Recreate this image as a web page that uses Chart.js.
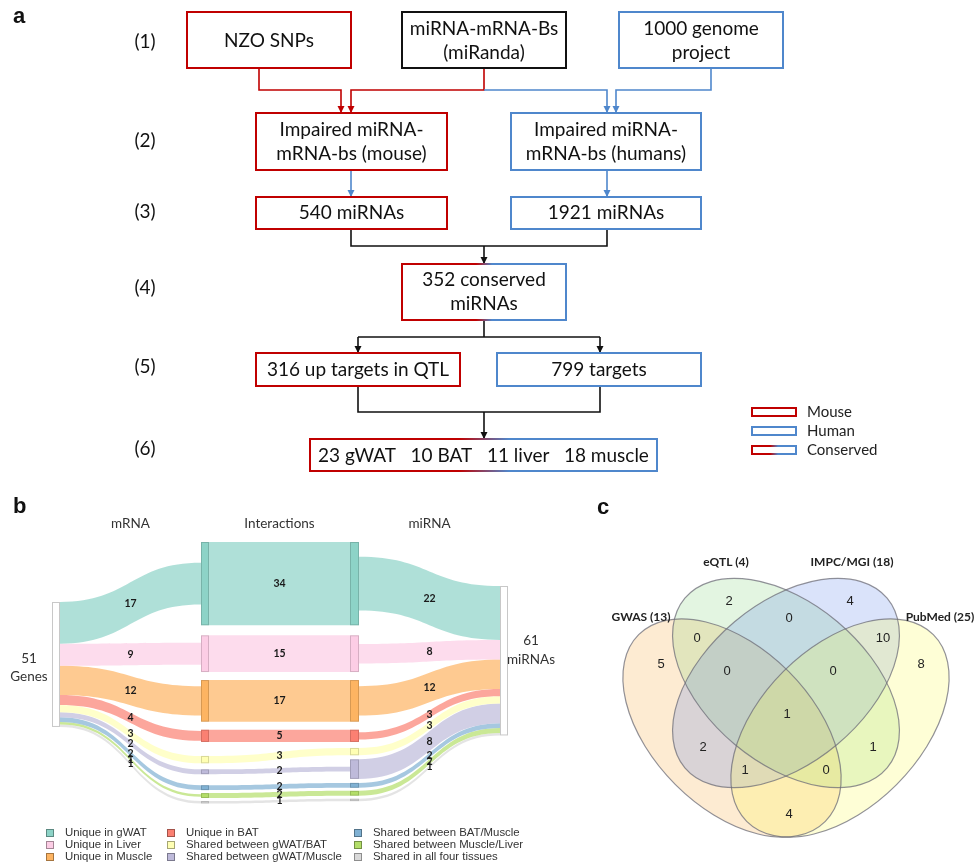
<!DOCTYPE html>
<html><head><meta charset="utf-8">
<script src="https://cdn.jsdelivr.net/npm/chart.js@4.4.0/dist/chart.umd.min.js"></script>
<style>html,body{margin:0;padding:0;background:#fff}#wrap{width:975px;height:862px}</style>
</head><body><div id="wrap"><canvas id="c" width="975" height="862"></canvas></div>
<script>
// ---------------- data ----------------
const flowSteps = ['(1)','(2)','(3)','(4)','(5)','(6)'];
const sourceLabels = ['NZO SNPs', 'miRNA-mRNA-Bs\n(miRanda)', '1000 genome\nproject'];
const impairedLabels = ['Impaired miRNA-\nmRNA-bs (mouse)', 'Impaired miRNA-\nmRNA-bs (humans)'];
const speciesMiRNACounts = [540, 1921];
const conservedMiRNACount = 352;
const targetCounts = [316, 799];
const targetLabels = ['up targets in QTL', 'targets'];
const tissueNames = ['gWAT', 'BAT', 'liver', 'muscle'];
const tissueCounts = [23, 10, 11, 18];
const speciesLegend = ['Mouse', 'Human', 'Conserved'];

const sankeyCategories = ['Unique in gWAT','Unique in Liver','Unique in Muscle','Unique in BAT',
  'Shared between gWAT/BAT','Shared between gWAT/Muscle','Shared between BAT/Muscle',
  'Shared between Muscle/Liver','Shared in all four tissues'];
const mrnaCounts = [17, 9, 12, 4, 3, 2, 2, 1, 1];
const interactionCounts = [34, 15, 17, 5, 3, 2, 2, 2, 1];
const mirnaCounts = [22, 8, 12, 3, 3, 8, 2, 2, 1];
const sankeyColumns = ['mRNA', 'Interactions', 'miRNA'];
const geneTotal = 51;
const mirnaTotal = 61;

const vennSets = ['GWAS', 'eQTL', 'IMPC/MGI', 'PubMed'];
const vennSetSizes = [13, 4, 18, 25];
const vennRegions = ['1000','0100','0010','0001','1100','0110','0011','1110','0111','1111','1010','0101','1011','1101','1001'];
const vennCounts  = [5, 2, 4, 8, 0, 0, 10, 0, 0, 1, 2, 1, 1, 0, 4];

// ---------------- styles ----------------
const RED = '#C00000', BLUE = '#4F87CC', BLACK = '#111';
const SET3 = ['#8DD3C7','#FCCDE5','#FDB462','#FB8072','#FFFFB3','#BEBADA','#80B1D3','#B3DE69','#D9D9D9'];
const VENN_FILL = ['rgba(245,155,30,0.2)','rgba(115,205,105,0.2)','rgba(70,115,230,0.2)','rgba(250,250,50,0.2)'];
const SANS = 'Lato, "Open Sans", sans-serif';
const ARIAL = '"Liberation Sans", Arial, sans-serif';

function rgba(hex, a){ const n=parseInt(hex.slice(1),16); return `rgba(${n>>16},${(n>>8)&255},${n&255},${a})`; }

const drawPlugin = {
  id: 'figure',
  afterDraw(chart){
    const ctx = chart.ctx, sx = chart.scales.x, sy = chart.scales.y;
    const X = v => sx.getPixelForValue(v), Y = v => sy.getPixelForValue(v);
    const L = v => Y(v) - Y(0);
    ctx.save();
    ctx.textBaseline = 'middle';

    function text(str, x, y, font, color, align, lh){
      ctx.font = font; ctx.fillStyle = color || BLACK; ctx.textAlign = align || 'center';
      const lines = String(str).split('\n'); lh = lh || 24;
      const y0 = y - (lines.length-1)*lh/2;
      lines.forEach((s,i)=>ctx.fillText(s, X(x), Y(y0 + i*lh)));
    }
    function rect(x1,y1,x2,y2,stroke,lw){
      ctx.strokeStyle = stroke; ctx.lineWidth = lw || 2;
      ctx.strokeRect(X(x1), Y(y1), X(x2)-X(x1), Y(y2)-Y(y1));
    }
    function grad(cx, spread){
      const g = ctx.createLinearGradient(X(cx-spread),0,X(cx+spread),0);
      g.addColorStop(0, RED); g.addColorStop(1, BLUE); return g;
    }
    function poly(pts, color, arrow){
      ctx.strokeStyle = color; ctx.lineWidth = 1.6; ctx.beginPath();
      pts.forEach((p,i)=> i ? ctx.lineTo(X(p[0]),Y(p[1])) : ctx.moveTo(X(p[0]),Y(p[1])));
      ctx.stroke();
      if (arrow){
        const p = pts[pts.length-1];
        ctx.fillStyle = color; ctx.beginPath();
        ctx.moveTo(X(p[0]), Y(p[1])); ctx.lineTo(X(p[0]-3.5), Y(p[1]-7)); ctx.lineTo(X(p[0]+3.5), Y(p[1]-7));
        ctx.closePath(); ctx.fill();
      }
    }

    // ============ panel a: flowchart ============
    const BF = '19px ' + SANS;
    text('a', 13, 17, 'bold 22px ' + ARIAL, BLACK, 'left');
    const stepY = [42, 141, 212, 288, 367, 449];
    flowSteps.forEach((s,i)=>text(s, 145, stepY[i], BF, BLACK));

    // connectors
    poly([[259,68],[259,90],[341,90],[341,113]], RED, true);
    poly([[484,68],[484,90],[351,90],[351,113]], RED, true);
    poly([[484,90],[607,90],[607,113]], BLUE, true);
    poly([[711,68],[711,90],[616,90],[616,113]], BLUE, true);
    poly([[351,170],[351,197]], BLUE, true);
    poly([[607,170],[607,197]], BLUE, true);
    poly([[351,229],[351,246],[607,246],[607,229]], BLACK, false);
    poly([[484,246],[484,264]], BLACK, true);
    poly([[484,320],[484,337]], BLACK, false);
    poly([[358,337],[600,337]], BLACK, false);
    poly([[358,337],[358,353]], BLACK, true);
    poly([[600,337],[600,353]], BLACK, true);
    poly([[358,386],[358,412],[600,412],[600,386]], BLACK, false);
    poly([[484,412],[484,439]], BLACK, true);

    // boxes
    const srcBoxes = [[187,351,RED],[402,566,BLACK],[619,783,BLUE]];
    srcBoxes.forEach((b,i)=>{ rect(b[0],12,b[1],68,b[2]); text(sourceLabels[i], (b[0]+b[1])/2, 41, BF); });
    const spBoxes = [[256,447,RED],[511,701,BLUE]];
    spBoxes.forEach((b,i)=>{
      rect(b[0],113,b[1],170,b[2]); text(impairedLabels[i], (b[0]+b[1])/2, 142, BF);
      rect(b[0],197,b[1],229,b[2]); text(speciesMiRNACounts[i] + ' miRNAs', (b[0]+b[1])/2, 213, BF);
    });
    rect(402,264,566,320, grad(484,8)); text(conservedMiRNACount + ' conserved\nmiRNAs', 484, 292, BF);
    const tgBoxes = [[256,460,RED],[497,701,BLUE]];
    tgBoxes.forEach((b,i)=>{ rect(b[0],353,b[1],386,b[2]); text(targetCounts[i] + ' ' + targetLabels[i], (b[0]+b[1])/2, 370, BF); });
    rect(310,439,657,471, grad(484,25));
    text(tissueCounts.map((c,i)=>c + ' ' + tissueNames[i]).join('   '), 483.5, 456, BF);

    // species legend
    const lgY = [412, 431, 450];
    [RED, BLUE, grad(774,4)].forEach((c,i)=>{ rect(752, lgY[i]-4, 796, lgY[i]+4, c, 2); text(speciesLegend[i], 807, lgY[i], '15px ' + SANS, '#222', 'left'); });

    // ============ panel b: sankey ============
    text('b', 13, 507, 'bold 22px ' + ARIAL, BLACK, 'left');
    const K = 2.45;
    const LX1 = 60, MX0 = 201, MX1 = 209, MX2 = 350, MX3 = 359, RX0 = 500;
    const leftTop = 602, rightTop = 586, midTop = 542;
    const leftGaps  = [0, 10, 8, 8, 14, 6, 11, 3, 3];
    const rightGaps = [0, 10, 8, 8, 6, 4, 4, 3, 3];
    const n = sankeyCategories.length;
    const Lh = interactionCounts.map((v,i)=>Math.max(v, mrnaCounts[i])*K);
    const Rh = interactionCounts.map((v,i)=>Math.max(v, mirnaCounts[i])*K);
    function stack(h, gaps){
      const top = []; let y = midTop;
      for (let i=0;i<n;i++){ y += gaps[i]; top.push(y); y += h[i]; }
      return top;
    }
    const LT = stack(Lh, leftGaps), RT = stack(Rh, rightGaps);
    const Lc = LT.map((t,i)=>t + Lh[i]/2), Rc = RT.map((t,i)=>t + Rh[i]/2);

    function band(x0, y0, x1, y1, t0, t1, fill){
      const xm = (x0+x1)/2;
      ctx.beginPath();
      ctx.moveTo(X(x0), Y(y0));
      ctx.bezierCurveTo(X(xm), Y(y0), X(xm), Y(y1), X(x1), Y(y1));
      ctx.lineTo(X(x1), Y(y1+t1));
      ctx.bezierCurveTo(X(xm), Y(y1+t1), X(xm), Y(y0+t0), X(x0), Y(y0+t0));
      ctx.closePath(); ctx.fillStyle = fill; ctx.fill();
    }
    let acc = 0; const leftStart = [];
    mrnaCounts.forEach(v=>{ leftStart.push(leftTop + acc*K); acc += v; });
    acc = 0; const rightStart = [];
    mirnaCounts.forEach(v=>{ rightStart.push(rightTop + acc*K); acc += v; });

    for (let i=n-1;i>=0;i--){
      const t = mrnaCounts[i]*K;
      band(LX1, leftStart[i], MX0, Lc[i]-t/2, t, t, rgba(SET3[i],0.7));
    }
    for (let i=n-1;i>=0;i--){
      const t = interactionCounts[i]*K;
      band(MX1, Lc[i]-t/2, MX2, Rc[i]-t/2, t, t, rgba(SET3[i],0.7));
    }
    for (let i=n-1;i>=0;i--){
      const t = mirnaCounts[i]*K;
      band(MX3, Rc[i]-t/2, RX0, rightStart[i], t, t, rgba(SET3[i],0.7));
    }
    for (let i=0;i<n;i++){
      ctx.fillStyle = SET3[i]; ctx.strokeStyle = 'rgba(0,0,0,0.15)'; ctx.lineWidth = 1;
      ctx.fillRect(X(MX0), Y(LT[i]), X(MX1)-X(MX0), L(Lh[i]));
      ctx.strokeRect(X(MX0)+0.5, Y(LT[i])+0.5, X(MX1)-X(MX0)-1, L(Lh[i])-1);
      ctx.fillRect(X(MX2), Y(RT[i]), X(MX3)-X(MX2), L(Rh[i]));
      ctx.strokeRect(X(MX2)+0.5, Y(RT[i])+0.5, X(MX3)-X(MX2)-1, L(Rh[i])-1);
    }
    ctx.fillStyle = '#fff'; ctx.strokeStyle = '#c8c8c8'; ctx.lineWidth = 1;
    ctx.fillRect(X(52), Y(leftTop), X(8)-X(0), L(geneTotal*K));
    ctx.strokeRect(X(52)+0.5, Y(leftTop)+0.5, X(8)-X(0)-1, L(geneTotal*K)-1);
    ctx.fillRect(X(RX0), Y(rightTop), X(8)-X(0), L(mirnaTotal*K));
    ctx.strokeRect(X(RX0)+0.5, Y(rightTop)+0.5, X(8)-X(0)-1, L(mirnaTotal*K)-1);

    const NF = 'bold 10.5px ' + SANS;
    const xl = (LX1+MX0)/2, xm = (MX1+MX2)/2, xr = (MX3+RX0)/2;
    for (let i=0;i<n;i++){
      text(mrnaCounts[i], xl, (leftStart[i] + mrnaCounts[i]*K/2 + Lc[i])/2, NF, '#1a1a1a');
      text(interactionCounts[i], xm, (Lc[i] + Rc[i])/2, NF, '#1a1a1a');
      text(mirnaCounts[i], xr, (rightStart[i] + mirnaCounts[i]*K/2 + Rc[i])/2, NF, '#1a1a1a');
    }
    const HF = '13.5px ' + SANS;
    [xl, xm, xr].forEach((x,i)=>text(sankeyColumns[i], x, 524, HF, '#333'));
    text(geneTotal + '\nGenes', 29, 668, HF, '#333', 'center', 18);
    text(mirnaTotal + '\nmiRNAs', 531, 650, HF, '#333', 'center', 19);

    const colX = [46, 167, 354], rowY = [833, 845, 857];
    sankeyCategories.forEach((c,i)=>{
      const cx = colX[Math.floor(i/3)], cy = rowY[i%3];
      ctx.fillStyle = SET3[i]; ctx.fillRect(X(cx), Y(cy-4), 8, 8);
      ctx.strokeStyle = 'rgba(0,0,0,0.35)'; ctx.lineWidth = 1; ctx.strokeRect(X(cx)+0.5, Y(cy-4)+0.5, 7, 7);
      text(c, cx + 19, cy, '11.4px ' + ARIAL, '#333', 'left');
    });

    // ============ panel c: venn ============
    text('c', 597, 508, 'bold 22px ' + ARIAL, BLACK, 'left');
    const EA = 132, EB = 80;
    const ell = [[732,728,45],[786,683,40],[786,683,-40],[840,728,-45]];
    ell.forEach((e,i)=>{
      ctx.beginPath(); ctx.ellipse(X(e[0]), Y(e[1]), L(EA), L(EB), e[2]*Math.PI/180, 0, Math.PI*2);
      ctx.fillStyle = VENN_FILL[i]; ctx.fill();
    });
    ell.forEach((e,i)=>{
      ctx.beginPath(); ctx.ellipse(X(e[0]), Y(e[1]), L(EA), L(EB), e[2]*Math.PI/180, 0, Math.PI*2);
      ctx.strokeStyle = 'rgba(110,110,120,0.75)'; ctx.lineWidth = 1.2; ctx.stroke();
    });
    const setLabelPos = [[641,617],[726,562],[852,562],[940,617]];
    vennSets.forEach((s,i)=>text(`${s} (${vennSetSizes[i]})`, setLabelPos[i][0], setLabelPos[i][1], 'bold 12px ' + SANS, '#222'));
    const regionPos = {'1000':[661,664],'0100':[729,601],'0010':[850,601],'0001':[921,664],'1100':[697,638],
      '0110':[789,618],'0011':[883,638],'1110':[727,671],'0111':[833,671],'1111':[787,714],'1010':[703,747],
      '0101':[873,747],'1011':[745,770],'1101':[826,770],'1001':[789,814]};
    vennRegions.forEach((r,i)=>text(vennCounts[i], regionPos[r][0], regionPos[r][1], '13px ' + ARIAL, '#222'));

    ctx.restore();
  }
};

new Chart(document.getElementById('c'), {
  type: 'scatter',
  data: { datasets: [] },
  options: {
    responsive: false, animation: false, events: [],
    layout: { padding: 0 },
    plugins: { legend: { display: false }, tooltip: { enabled: false } },
    scales: {
      x: { type: 'linear', min: 0, max: 975, display: false },
      y: { type: 'linear', min: 0, max: 862, reverse: true, display: false }
    }
  },
  plugins: [drawPlugin]
});
</script>
</body></html>
